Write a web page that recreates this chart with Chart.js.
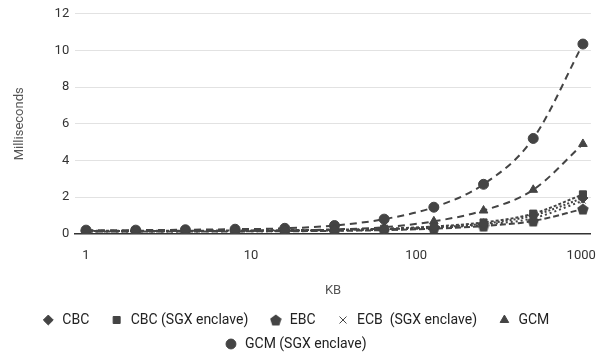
<!DOCTYPE html>
<html lang="en">
<head>
  <meta charset="UTF-8">
  <title>Encryption timings</title>
  <script src="https://cdn.jsdelivr.net/npm/chart.js"></script>
  <style>
    body {
      margin: 0;
      background: #fff;
    }
    .wrap {
      width: 602px;
      height: 355px;
    }
  </style>
</head>
<body>
  <div class="wrap"><canvas id="chart"></canvas></div>

  <script>
    const sizesKB = [1, 2, 4, 8, 16, 32, 64, 128, 256, 512, 1024];
    const xTickLabels = [1, 10, 100, 1000];
    const yTickLabels = [0, 2, 4, 6, 8, 10, 12];

    const cbc = [0.15, 0.15, 0.15, 0.16, 0.17, 0.2, 0.25, 0.35, 0.55, 1.0, 1.95];
    const cbcSgx = [0.17, 0.17, 0.17, 0.18, 0.2, 0.22, 0.28, 0.4, 0.62, 1.1, 2.15];
    const ebc = [0.12, 0.12, 0.12, 0.13, 0.14, 0.16, 0.2, 0.28, 0.42, 0.7, 1.35];
    const ecbSgx = [0.13, 0.13, 0.13, 0.14, 0.15, 0.18, 0.22, 0.32, 0.5, 0.85, 1.8];
    const gcm = [0.14, 0.14, 0.15, 0.16, 0.18, 0.24, 0.36, 0.68, 1.27, 2.4, 4.9];
    const gcmSgx = [0.2, 0.2, 0.22, 0.25, 0.3, 0.45, 0.8, 1.45, 2.7, 5.2, 10.35];

    const ink = '#444444';

    // pentagon marker (Chart.js has no built-in one)
    function pentagon(size) {
      const c = document.createElement('canvas');
      c.width = size;
      c.height = size;
      const g = c.getContext('2d');
      const r = size / 2;
      g.fillStyle = ink;
      g.beginPath();
      for (let i = 0; i < 5; i++) {
        const a = -Math.PI / 2 + i * 2 * Math.PI / 5;
        const px = r + r * Math.cos(a);
        const py = r + 0.6 + r * Math.sin(a);
        if (i === 0) g.moveTo(px, py); else g.lineTo(px, py);
      }
      g.closePath();
      g.fill();
      return c;
    }

    function series(label, values, pointStyle, radius, dash) {
      return {
        label: label,
        data: sizesKB.map((kb, i) => ({ x: kb, y: values[i] })),
        borderColor: ink,
        backgroundColor: ink,
        borderWidth: 2,
        borderDash: dash,
        pointStyle: pointStyle,
        pointRadius: radius,
        pointHoverRadius: radius,
        pointBorderWidth: 1,
        cubicInterpolationMode: 'monotone',
        tension: 0.4
      };
    }

    const baseLabels = Chart.defaults.plugins.legend.labels.generateLabels;

    new Chart(document.getElementById('chart'), {
      type: 'line',
      data: {
        datasets: [
          series('CBC', cbc, 'rectRot', 5, [2, 2]),
          series('CBC (SGX enclave)', cbcSgx, 'rect', 5, [3, 2]),
          series('EBC', ebc, pentagon(12), 5, [6, 3]),
          series('ECB  (SGX enclave)', ecbSgx, 'crossRot', 4, [2, 3]),
          series('GCM', gcm, 'triangle', 5, [7, 5]),
          series('GCM (SGX enclave)', gcmSgx, 'circle', 5, [7, 5])
        ]
      },
      options: {
        responsive: true,
        maintainAspectRatio: false,
        animation: false,
        layout: { padding: { left: 8, right: 9, top: 4, bottom: -6 } },
        plugins: {
          tooltip: { enabled: false },
          legend: {
            position: 'bottom',
            labels: {
              usePointStyle: true,
              boxWidth: 14,
              boxHeight: 7,
              padding: 10,
              color: '#222',
              font: { family: 'Roboto', size: 14 },
              // a little extra room between items, like the original
              generateLabels: chart => baseLabels(chart).map(l => ({ ...l, text: l.text + '   ' }))
            }
          }
        },
        scales: {
          x: {
            type: 'logarithmic',
            min: 0.86,
            max: 1145,
            afterBuildTicks: axis => {
              axis.ticks = xTickLabels.map(v => ({ value: v }));
            },
            ticks: {
              color: '#333',
              font: { family: 'Roboto', size: 13 },
              maxRotation: 0,
              padding: 6,
              callback: v => String(v)
            },
            grid: { display: false },
            border: { display: true, color: '#333', width: 1.5 },
            title: {
              display: true,
              text: 'KB',
              color: '#555',
              font: { family: 'Roboto', size: 13 },
              padding: { top: 14, bottom: 4 }
            }
          },
          y: {
            min: 0,
            max: 12,
            afterBuildTicks: axis => {
              axis.ticks = yTickLabels.map(v => ({ value: v }));
            },
            ticks: {
              color: '#333',
              font: { family: 'Roboto', size: 13 },
              padding: 6
            },
            grid: { color: '#e2e2e2', drawTicks: false },
            border: { display: false },
            title: {
              display: true,
              text: 'Milliseconds',
              color: '#555',
              font: { family: 'Roboto', size: 13 },
              padding: { bottom: 21 }
            }
          }
        }
      }
    });
  </script>
</body>
</html>
